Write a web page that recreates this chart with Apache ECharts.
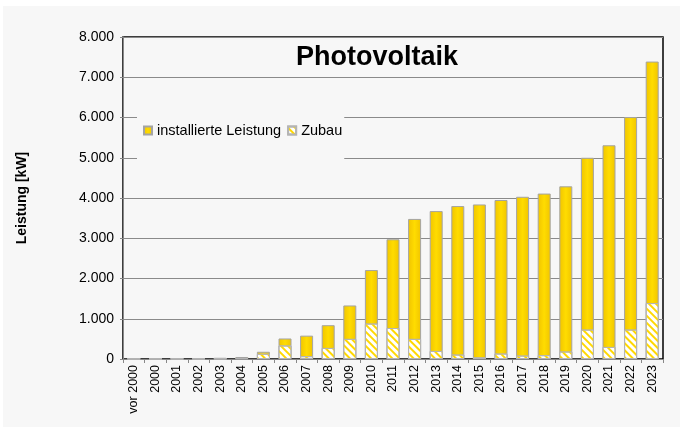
<!DOCTYPE html>
<html>
<head>
<meta charset="utf-8">
<script src="https://cdn.jsdelivr.net/npm/echarts@6/dist/echarts.min.js"></script>
<style>
  html, body { margin: 0; padding: 0; background: #fff; }
  #panel { position: absolute; left: 3px; top: 6px; width: 677px; height: 421px; background: #f7f7f7; }
  #chart { position: absolute; left: 0; top: 0; width: 685px; height: 431px; }
</style>
</head>
<body>
<div id="panel"></div>
<div id="chart"></div>
<script>
// Jahre (Kategorien)
const years = ['vor 2000', '2000', '2001', '2002', '2003', '2004', '2005', '2006', '2007', '2008',
  '2009', '2010', '2011', '2012', '2013', '2014', '2015', '2016', '2017', '2018',
  '2019', '2020', '2021', '2022', '2023'];

// installierte Leistung [kW]
const installed = [5, 10, 15, 20, 30, 50, 180, 510, 580, 840,
  1330, 2210, 2975, 3480, 3675, 3800, 3840, 3950, 4030, 4110,
  4290, 5000, 5310, 6010, 7390];

// Zubau [kW]
const zubau = [5, 5, 5, 5, 10, 20, 130, 335, 70, 275,
  500, 880, 770, 500, 200, 110, 40, 135, 85, 95,
  185, 730, 300, 730, 1390];

const FONT = "'Liberation Sans', Arial, sans-serif";

const chart = echarts.init(document.getElementById('chart'));

const option = {
  animation: false,
  textStyle: { fontFamily: FONT, color: '#000' },
  title: {
    text: 'Photovoltaik',
    left: 372,
    textAlign: 'center',
    top: 39,
    textStyle: { fontFamily: FONT, fontSize: 27, fontWeight: 'bold', color: '#000' }
  },
  legend: {
    left: 137,
    top: 110,
    z: 5,
    icon: 'rect',
    backgroundColor: '#f7f7f7',
    padding: [13, 2, 26, 6],
    itemWidth: 8,
    itemHeight: 8,
    itemGap: 6,
    textStyle: { fontFamily: FONT, fontSize: 14.5, color: '#000' },
    data: ['installierte Leistung', 'Zubau']
  },
  grid: {
    left: 123, right: 22, top: 37, bottom: 72,
    show: true,
    backgroundColor: 'transparent',
    borderColor: '#000',
    borderWidth: 1.5
  },
  xAxis: {
    type: 'category',
    data: years,
    axisLine: { lineStyle: { color: '#888', width: 1 } },
    axisTick: { show: true, length: 4, lineStyle: { color: '#888' } },
    axisLabel: { rotate: 90, fontSize: 12.5, color: '#000', margin: 6, interval: 0, fontFamily: FONT }
  },
  yAxis: {
    type: 'value',
    min: 0,
    max: 8000,
    interval: 1000,
    name: 'Leistung [kW]',
    nameLocation: 'middle',
    nameRotate: 90,
    nameGap: 94,
    nameTextStyle: { fontFamily: FONT, fontSize: 14, fontWeight: 'bold', color: '#000' },
    axisLine: { show: true, lineStyle: { color: '#888', width: 1 } },
    axisTick: { show: true, length: 3, lineStyle: { color: '#888' } },
    axisLabel: {
      fontSize: 14, color: '#000', margin: 9, fontFamily: FONT,
      formatter: v => v === 0 ? '0' : (v / 1000) + '.000'
    },
    splitLine: { lineStyle: { color: '#8a8a8a', width: 1 } }
  },
  series: [
    {
      name: 'installierte Leistung',
      type: 'bar',
      data: installed,
      barWidth: 13,
      barGap: '-100%',
      itemStyle: {
        color: new echarts.graphic.LinearGradient(0, 0, 1, 0, [
          { offset: 0, color: '#f0c400' },
          { offset: 0.5, color: '#ffdc00' },
          { offset: 1, color: '#f0c400' }
        ]),
        borderColor: '#a4a4a4',
        borderWidth: 1
      }
    },
    {
      name: 'Zubau',
      type: 'bar',
      data: zubau,
      barWidth: 13,
      barGap: '-100%',
      itemStyle: {
        color: '#ffffff',
        borderColor: '#b4b4b4',
        borderWidth: 1,
        decal: {
          symbol: 'rect',
          symbolSize: 1,
          dashArrayX: [1, 0],
          dashArrayY: [2, 3],
          rotation: Math.PI / 4,
          color: '#ffd800'
        }
      }
    }
  ]
};

chart.setOption(option);
</script>
</body>
</html>
